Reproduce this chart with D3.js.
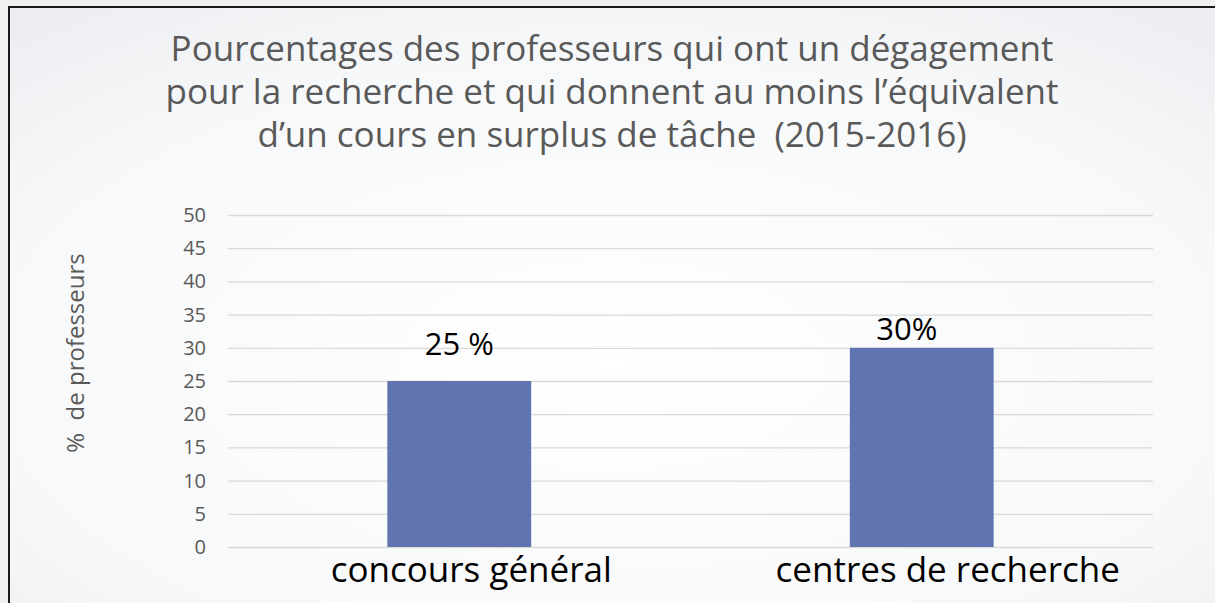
<!DOCTYPE html>
<html>
<head>
<meta charset="utf-8">
<script src="https://cdn.jsdelivr.net/npm/d3@7"></script>
<style>
  html, body { margin: 0; padding: 0; background: #eef0f2; }
  svg { display: block; }
</style>
</head>
<body>
<div id="chart"></div>
<script>
// --------------------------------------
// Data
// --------------------------------------

const categories = ["concours général", "centres de recherche"];
const values = [25, 30];
const valueLabels = ["25 %", "30%"];
const yTicks = [0, 5, 10, 15, 20, 25, 30, 35, 40, 45, 50];
const titleLines = [
  "Pourcentages des professeurs qui ont un dégagement",
  "pour la recherche et qui donnent au moins l’équivalent",
  "d’un cours en surplus de tâche  (2015-2016)"
];

// --------------------------------------
// Canvas
// --------------------------------------

const width = 1215, height = 603;
const margin = {top: 215, right: 62, bottom: 56, left: 228};

const svg = d3.select("#chart")
  .append("svg")
    .attr("width", width)
    .attr("height", height);

const defs = svg.append("defs");
const grad = defs.append("radialGradient")
    .attr("id", "bg")
    .attr("cx", "50%").attr("cy", "60%").attr("r", "75%");
grad.append("stop").attr("offset", "0%").attr("stop-color", "#ffffff");
grad.append("stop").attr("offset", "70%").attr("stop-color", "#f7f8f9");
grad.append("stop").attr("offset", "100%").attr("stop-color", "#eceef1");

svg.append("rect")
    .attr("width", width).attr("height", height)
    .attr("fill", "#eef0f2");
svg.append("rect")
    .attr("x", 10).attr("y", 8)
    .attr("width", width - 10).attr("height", height - 8)
    .attr("fill", "url(#bg)");

// border (top + left)
svg.append("path")
    .attr("d", `M9,${height} V7 H${width}`)
    .attr("fill", "none")
    .attr("stroke", "#1a1a1a")
    .attr("stroke-width", 2);

// --------------------------------------
// Scales
// --------------------------------------

const x = d3.scaleBand()
    .domain(categories)
    .range([margin.left, width - margin.right])
    .paddingInner(0.689)
    .paddingOuter(0.3445);

const y = d3.scaleLinear()
    .domain([0, 50])
    .range([height - margin.bottom, margin.top]);

// --------------------------------------
// Title
// --------------------------------------

svg.append("g")
  .selectAll("text")
  .data(titleLines)
  .join("text")
    .attr("x", 612)
    .attr("y", (d, i) => 61 + i * 43)
    .attr("text-anchor", "middle")
    .attr("font-family", "'Open Sans', sans-serif")
    .attr("font-size", 35)
    .attr("fill", "#595959")
    .style("white-space", "pre")
    .text(d => d);

// --------------------------------------
// Axes
// --------------------------------------

const yAxis = svg.append("g")
    .attr("transform", `translate(${margin.left},0)`)
    .call(d3.axisLeft(y)
      .tickValues(yTicks)
      .tickSize(-(width - margin.left - margin.right))
      .tickPadding(22));

yAxis.select(".domain").remove();
yAxis.selectAll(".tick line")
    .attr("stroke", "#d9d9d9")
    .attr("stroke-width", 1.3);
yAxis.selectAll(".tick text")
    .attr("font-family", "'Open Sans', sans-serif")
    .attr("font-size", 20)
    .attr("fill", "#595959");

svg.append("text")
    .attr("transform", `translate(84,353) rotate(-90)`)
    .attr("text-anchor", "middle")
    .attr("font-family", "'Open Sans', sans-serif")
    .attr("font-size", 24)
    .attr("fill", "#595959")
    .style("white-space", "pre")
    .text("%  de professeurs");

svg.append("g")
  .selectAll("text")
  .data(categories)
  .join("text")
    .attr("x", d => x(d) + x.bandwidth() / 2)
    .attr("dx", (d, i) => i === 0 ? 12 : 26)
    .attr("y", 582)
    .attr("text-anchor", "middle")
    .attr("font-family", "'Open Sans', sans-serif")
    .attr("font-size", 35)
    .attr("fill", "#000")
    .text(d => d);

// --------------------------------------
// Bars
// --------------------------------------

svg.append("g")
  .selectAll("rect")
  .data(values)
  .join("rect")
    .attr("x", (d, i) => x(categories[i]))
    .attr("y", d => y(d))
    .attr("width", x.bandwidth())
    .attr("height", d => y(0) - y(d))
    .attr("fill", "#5f74b1");

svg.append("g")
  .selectAll("text")
  .data(values)
  .join("text")
    .attr("x", (d, i) => x(categories[i]) + x.bandwidth() / 2)
    .attr("dx", (d, i) => i === 0 ? 0 : -15)
    .attr("y", (d, i) => y(d) - (i === 0 ? 26 : 8))
    .attr("text-anchor", "middle")
    .attr("font-family", "'Open Sans', sans-serif")
    .attr("font-size", 31)
    .attr("fill", "#000")
    .text((d, i) => valueLabels[i]);
</script>
</body>
</html>
